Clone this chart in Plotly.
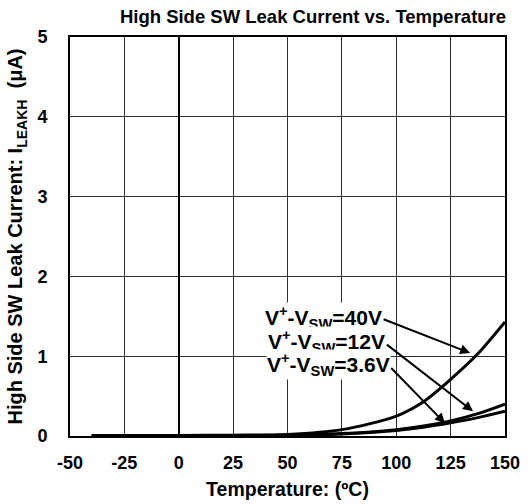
import plotly.graph_objects as go

temps = [-40, -25, 0, 25, 50, 75, 100, 112.5, 125, 137.5, 150]
leak_40v = [0.005, 0.005, 0.007, 0.01, 0.02, 0.08, 0.25, 0.43, 0.71, 1.03, 1.43]
leak_12v = [0.003, 0.003, 0.004, 0.006, 0.01, 0.03, 0.08, 0.125, 0.19, 0.28, 0.40]
leak_3v6 = [0.002, 0.002, 0.003, 0.005, 0.008, 0.025, 0.07, 0.11, 0.165, 0.23, 0.31]

x_ticks = [-50, -25, 0, 25, 50, 75, 100, 125, 150]
y_ticks = [0, 1, 2, 3, 4, 5]

FONT = "Liberation Sans, Arial, sans-serif"

fig = go.Figure()
for ys in (leak_3v6, leak_12v, leak_40v):
    fig.add_trace(go.Scatter(x=temps, y=ys, mode="lines",
                             line=dict(color="black", width=3, shape="spline", smoothing=0.8),
                             showlegend=False, hoverinfo="skip"))

labels = [
    ("V<sup>+</sup>-V<sub>SW</sub>=40V", 94.0, 1.49, 134.0, 1.04),
    ("V<sup>+</sup>-V<sub>SW</sub>=12V", 95.5, 1.18, 135.3, 0.31),
    ("V<sup>+</sup>-V<sub>SW</sub>=3.6V", 97.5, 0.89, 122.4, 0.16),
]
for txt, tx, ty, hx, hy in labels:
    fig.add_annotation(x=tx, y=ty, text="<b>" + txt + "</b>", showarrow=False,
                       xanchor="right", yanchor="middle",
                       bgcolor="white", borderpad=0,
                       font=dict(family=FONT, size=21, color="black"))
for txt, tx, ty, hx, hy in labels:
    fig.add_annotation(x=hx, y=hy, ax=tx - 0.5, ay=ty - 0.02, axref="x", ayref="y",
                       text="", showarrow=True, arrowhead=2, arrowsize=1, arrowwidth=2,
                       arrowcolor="black")

fig.update_layout(
    width=528, height=504,
    margin=dict(l=70, r=23, t=37, b=68, autoexpand=False),
    paper_bgcolor="white", plot_bgcolor="white",
    font=dict(family=FONT, color="black"),
    title=dict(text="<b>High Side SW Leak Current vs. Temperature</b>",
               x=313 / 528, xref="container", xanchor="center",
               y=1 - 17 / 504, yref="container", yanchor="middle",
               font=dict(family=FONT, size=18.5, color="black")),
)
fig.update_xaxes(range=[-50, 150], tickvals=x_ticks, ticktext=["<b>%d</b>" % v for v in x_ticks],
                 showgrid=True, gridcolor="#303030", gridwidth=1.3,
                 zeroline=True, zerolinecolor="black", zerolinewidth=2.2,
                 showline=True, linecolor="black", linewidth=2, mirror=True,
                 ticks="", ticklabelstandoff=9, automargin=False,
                 tickfont=dict(family=FONT, size=18, color="black"),
                 title=dict(text="<b>Temperature: (ºC)</b>", standoff=11,
                            font=dict(family=FONT, size=19.5, color="black")))
fig.update_yaxes(range=[0, 5], tickvals=y_ticks, ticktext=["<b>%d</b>" % v for v in y_ticks],
                 showgrid=True, gridcolor="#303030", gridwidth=1.3,
                 zeroline=False,
                 showline=True, linecolor="black", linewidth=2, mirror=True,
                 ticks="", ticklabelstandoff=17, automargin=False,
                 tickfont=dict(family=FONT, size=18, color="black"),
                 title=dict(text="<b>High Side SW Leak Current: I<sub>LEAKH</sub>\u00a0\u00a0(μA)</b>", standoff=9,
                            font=dict(family=FONT, size=20, color="black")))

fig.write_html("out.html")
